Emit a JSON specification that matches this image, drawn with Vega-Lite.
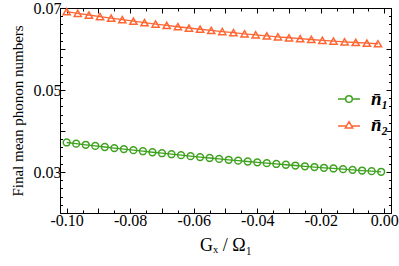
{
  "$schema": "https://vega.github.io/schema/vega-lite/v6.json",
  "width": 331,
  "height": 205,
  "autosize": {"type": "none"},
  "padding": {"left": 60, "top": 8, "right": 8, "bottom": 53},
  "background": "white",
  "config": {
    "view": {"stroke": "black", "strokeWidth": 1},
    "font": "Liberation Serif",
    "axis": {
      "grid": false,
      "domainColor": "black",
      "domainWidth": 1,
      "tickColor": "black",
      "tickWidth": 1,
      "labelFont": "Liberation Serif",
      "labelFontSize": 16,
      "labelColor": "black",
      "titleFont": "Liberation Serif",
      "titleColor": "black",
      "titleFontWeight": "normal",
      "labelOverlap": false,
      "labelFlush": false
    },
    "legend": {
      "title": null,
      "orient": "none",
      "legendX": 277,
      "legendY": 79,
      "labelFont": "Liberation Serif",
      "labelFontSize": 19,
      "labelFontStyle": "italic",
      "labelFontWeight": "bold",
      "labelColor": "black",
      "symbolSize": 484,
      "symbolStrokeWidth": 1.5,
      "symbolFillColor": "transparent",
      "rowPadding": 4,
      "labelOffset": 10
    }
  },
  "data": {
    "values": [
      {"g": -0.100, "n": 0.03720, "s": "n1"},
      {"g": -0.097, "n": 0.03692, "s": "n1"},
      {"g": -0.094, "n": 0.03664, "s": "n1"},
      {"g": -0.091, "n": 0.03637, "s": "n1"},
      {"g": -0.088, "n": 0.03610, "s": "n1"},
      {"g": -0.085, "n": 0.03584, "s": "n1"},
      {"g": -0.082, "n": 0.03558, "s": "n1"},
      {"g": -0.079, "n": 0.03532, "s": "n1"},
      {"g": -0.076, "n": 0.03507, "s": "n1"},
      {"g": -0.073, "n": 0.03482, "s": "n1"},
      {"g": -0.070, "n": 0.03458, "s": "n1"},
      {"g": -0.067, "n": 0.03434, "s": "n1"},
      {"g": -0.064, "n": 0.03410, "s": "n1"},
      {"g": -0.061, "n": 0.03387, "s": "n1"},
      {"g": -0.058, "n": 0.03364, "s": "n1"},
      {"g": -0.055, "n": 0.03342, "s": "n1"},
      {"g": -0.052, "n": 0.03320, "s": "n1"},
      {"g": -0.049, "n": 0.03298, "s": "n1"},
      {"g": -0.046, "n": 0.03277, "s": "n1"},
      {"g": -0.043, "n": 0.03256, "s": "n1"},
      {"g": -0.040, "n": 0.03236, "s": "n1"},
      {"g": -0.037, "n": 0.03216, "s": "n1"},
      {"g": -0.034, "n": 0.03196, "s": "n1"},
      {"g": -0.031, "n": 0.03177, "s": "n1"},
      {"g": -0.028, "n": 0.03158, "s": "n1"},
      {"g": -0.025, "n": 0.03139, "s": "n1"},
      {"g": -0.022, "n": 0.03121, "s": "n1"},
      {"g": -0.019, "n": 0.03103, "s": "n1"},
      {"g": -0.016, "n": 0.03086, "s": "n1"},
      {"g": -0.013, "n": 0.03069, "s": "n1"},
      {"g": -0.010, "n": 0.03052, "s": "n1"},
      {"g": -0.007, "n": 0.03036, "s": "n1"},
      {"g": -0.004, "n": 0.03020, "s": "n1"},
      {"g": -0.001, "n": 0.03005, "s": "n1"},
      {"g": -0.1000, "n": 0.06910, "s": "n2"},
      {"g": -0.0965, "n": 0.06869, "s": "n2"},
      {"g": -0.0930, "n": 0.06829, "s": "n2"},
      {"g": -0.0895, "n": 0.06790, "s": "n2"},
      {"g": -0.0860, "n": 0.06752, "s": "n2"},
      {"g": -0.0825, "n": 0.06715, "s": "n2"},
      {"g": -0.0790, "n": 0.06678, "s": "n2"},
      {"g": -0.0755, "n": 0.06643, "s": "n2"},
      {"g": -0.0720, "n": 0.06609, "s": "n2"},
      {"g": -0.0685, "n": 0.06576, "s": "n2"},
      {"g": -0.0650, "n": 0.06543, "s": "n2"},
      {"g": -0.0615, "n": 0.06512, "s": "n2"},
      {"g": -0.0580, "n": 0.06482, "s": "n2"},
      {"g": -0.0545, "n": 0.06452, "s": "n2"},
      {"g": -0.0510, "n": 0.06424, "s": "n2"},
      {"g": -0.0475, "n": 0.06397, "s": "n2"},
      {"g": -0.0440, "n": 0.06370, "s": "n2"},
      {"g": -0.0405, "n": 0.06345, "s": "n2"},
      {"g": -0.0370, "n": 0.06320, "s": "n2"},
      {"g": -0.0335, "n": 0.06296, "s": "n2"},
      {"g": -0.0300, "n": 0.06274, "s": "n2"},
      {"g": -0.0265, "n": 0.06252, "s": "n2"},
      {"g": -0.0230, "n": 0.06232, "s": "n2"},
      {"g": -0.0195, "n": 0.06212, "s": "n2"},
      {"g": -0.0160, "n": 0.06193, "s": "n2"},
      {"g": -0.0125, "n": 0.06175, "s": "n2"},
      {"g": -0.0090, "n": 0.06159, "s": "n2"},
      {"g": -0.0055, "n": 0.06143, "s": "n2"},
      {"g": -0.0020, "n": 0.06128, "s": "n2"}
    ]
  },
  "layer": [
    {
      "mark": {"type": "line", "strokeWidth": 1.3},
      "encoding": {
        "x": {
          "field": "g", "type": "quantitative",
          "scale": {"domain": [-0.1021, 0.0021], "nice": false, "zero": false},
          "axis": {
            "orient": "bottom",
            "values": [-0.1, -0.095, -0.09, -0.085, -0.08, -0.075, -0.07, -0.065, -0.06, -0.055, -0.05, -0.045, -0.04, -0.035, -0.03, -0.025, -0.02, -0.015, -0.01, -0.005, 0],
            "tickSize": {"condition": {"test": "abs(datum.value*100 - round(datum.value*100)) < 0.001", "value": -5}, "value": -3},
            "labelExpr": "(abs(datum.value*50 - round(datum.value*50)) < 0.001) ? ((datum.value < -1e-9 ? '-' : '') + format(abs(datum.value), '.2f')) : ''",
            "labelPadding": 4,
            "title": "Gₓ / Ω₁",
            "titleFontSize": 18,
            "titlePadding": 6
          }
        },
        "y": {
          "field": "n", "type": "quantitative",
          "scale": {"domain": [0.02, 0.07], "nice": false, "zero": false},
          "axis": {
            "orient": "left",
            "values": [0.02, 0.022, 0.024, 0.026, 0.028, 0.03, 0.032, 0.034, 0.036, 0.038, 0.04, 0.042, 0.044, 0.046, 0.048, 0.05, 0.052, 0.054, 0.056, 0.058, 0.06, 0.062, 0.064, 0.066, 0.068, 0.07],
            "tickSize": {"condition": {"test": "abs(datum.value*100 - round(datum.value*100)) < 0.001", "value": -5}, "value": -2.5},
            "labelExpr": "(abs(datum.value*100 - round(datum.value*100)) < 0.001 && round(datum.value*100) % 2 == 1) ? format(datum.value, '.2f') : ''",
            "labelPadding": 4,
            "title": "Final mean phonon numbers",
            "titleFontSize": 15,
            "titlePadding": 8
          }
        },
        "color": {
          "field": "s", "type": "nominal",
          "scale": {"domain": ["n1", "n2"], "range": ["#3fa21f", "#ff6633"]},
          "legend": {"labelExpr": "datum.value == 'n1' ? 'n\u0304\u2081' : 'n\u0304\u2082'"}
        }
      }
    },
    {
      "transform": [{"filter": "datum.s == 'n1'"}],
      "mark": {"type": "point", "shape": "circle", "filled": false, "size": 46, "strokeWidth": 1.5, "opacity": 1},
      "encoding": {
        "x": {"field": "g", "type": "quantitative", "axis": null},
        "y": {"field": "n", "type": "quantitative", "axis": null},
        "color": {"field": "s", "type": "nominal", "legend": {"labelExpr": "datum.value == 'n1' ? 'n\u0304\u2081' : 'n\u0304\u2082'"}}
      }
    },
    {
      "transform": [{"filter": "datum.s == 'n2'"}],
      "mark": {"type": "point", "shape": "triangle-up", "filled": false, "size": 52, "strokeWidth": 1.5, "opacity": 1},
      "encoding": {
        "x": {"field": "g", "type": "quantitative", "axis": null},
        "y": {"field": "n", "type": "quantitative", "axis": null},
        "color": {"field": "s", "type": "nominal", "legend": {"labelExpr": "datum.value == 'n1' ? 'n\u0304\u2081' : 'n\u0304\u2082'"}}
      }
    },
    {
      "transform": [{"filter": "datum.s == 'none'"}],
      "mark": {"type": "point", "filled": false, "strokeWidth": 1.5, "opacity": 1},
      "encoding": {
        "x": {"field": "g", "type": "quantitative", "axis": null},
        "y": {"field": "n", "type": "quantitative", "axis": null},
        "color": {"field": "s", "type": "nominal", "legend": {"labelExpr": "datum.value == 'n1' ? 'n\u0304\u2081' : 'n\u0304\u2082'"}},
        "shape": {
          "field": "s", "type": "nominal",
          "scale": {"domain": ["n1", "n2"], "range": ["M-1,0H-0.3M0.3,0H1M0.3,0A0.3,0.3 0 1,1 -0.3,0A0.3,0.3 0 1,1 0.3,0", "M-1,0.08H-0.28M0.28,0.08H1M0,-0.3L0.33,0.27L-0.33,0.27Z"]},
          "legend": {"labelExpr": "datum.value == 'n1' ? 'n\u0304\u2081' : 'n\u0304\u2082'"}
        }
      }
    },
    {
      "mark": {"type": "point", "opacity": 0},
      "encoding": {
        "x": {
          "field": "g", "type": "quantitative",
          "axis": {
            "orient": "top",
            "values": [-0.1, -0.095, -0.09, -0.085, -0.08, -0.075, -0.07, -0.065, -0.06, -0.055, -0.05, -0.045, -0.04, -0.035, -0.03, -0.025, -0.02, -0.015, -0.01, -0.005, 0],
            "tickSize": {"condition": {"test": "abs(datum.value*100 - round(datum.value*100)) < 0.001", "value": -5}, "value": -3},
            "labels": false,
            "title": null
          }
        },
        "y": {
          "field": "n", "type": "quantitative",
          "axis": {
            "orient": "right",
            "values": [0.02, 0.022, 0.024, 0.026, 0.028, 0.03, 0.032, 0.034, 0.036, 0.038, 0.04, 0.042, 0.044, 0.046, 0.048, 0.05, 0.052, 0.054, 0.056, 0.058, 0.06, 0.062, 0.064, 0.066, 0.068, 0.07],
            "tickSize": {"condition": {"test": "abs(datum.value*100 - round(datum.value*100)) < 0.001", "value": -5}, "value": -2.5},
            "labels": false,
            "title": null
          }
        }
      }
    }
  ],
  "resolve": {"axis": {"x": "independent", "y": "independent"}}
}
